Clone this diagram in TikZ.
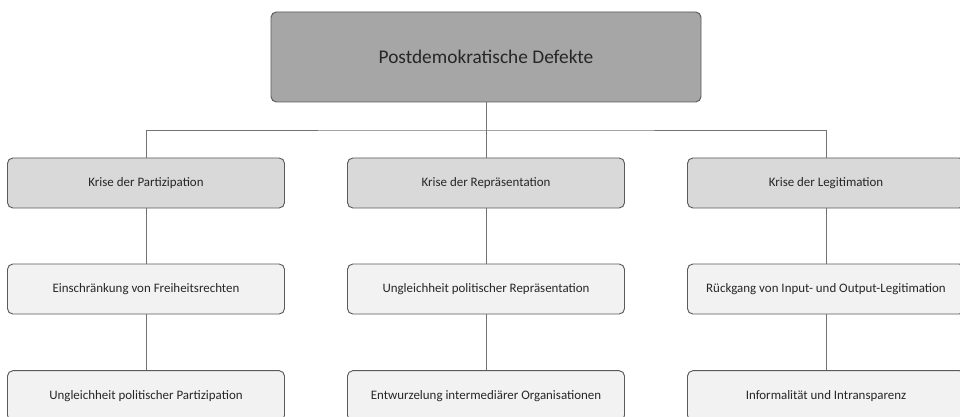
\documentclass[tikz,border=0pt]{standalone}
\usepackage{fontspec}
\setmainfont{Carlito}
\usetikzlibrary{positioning}

\definecolor{topgray}{HTML}{A6A6A6}
\definecolor{midgray}{HTML}{D9D9D9}
\definecolor{lowgray}{HTML}{F2F2F2}
\definecolor{edgegray}{HTML}{5A5A5A}
\definecolor{textgray}{HTML}{262626}

\begin{document}
\begin{tikzpicture}[x=0.75pt,y=-0.75pt,
    box/.style={draw=edgegray,line width=0.7pt,rounded corners=4pt,
      text=textgray,inner sep=0pt,align=center},
    headbox/.style={box,fill=topgray,minimum width=322.5pt,minimum height=67.5pt,
      font=\fontsize{14.5}{16}\selectfont},
    crisisbox/.style={box,fill=midgray,minimum width=207.75pt,minimum height=37.5pt,
      font=\fontsize{9.7}{11}\selectfont},
    itembox/.style={box,fill=lowgray,minimum width=207.75pt,minimum height=37.5pt,
      font=\fontsize{9.7}{11}\selectfont},
    link/.style={draw=edgegray!85,line width=0.7pt}]
  \useasboundingbox (0,0) rectangle (960,417);

  % top
  \node[headbox] (defekte) at (486,57) {Postdemokratische Defekte};
  \coordinate (bus) at (486,130);

  % second row
  \node[crisisbox] (partizipation)  at (146,183) {Krise der Partizipation};
  \node[crisisbox] (repraesentation) at (486,183) {Krise der Repräsentation};
  \node[crisisbox] (legitimation)   at (826,183) {Krise der Legitimation};

  % third row
  \node[itembox] (freiheit) at (146,289) {Einschränkung von Freiheitsrechten};
  \node[itembox] (ungleichrep) at (486,289) {Ungleichheit politischer Repräsentation};
  \node[itembox] (inout) at (826,289) {Rückgang von Input- und Output-Legitimation};

  % fourth row
  \node[itembox] (ungleichpart) at (146,395.7) {Ungleichheit politischer Partizipation};
  \node[itembox] (entwurzelung) at (486,395.7) {Entwurzelung intermediärer Organisationen};
  \node[itembox] (informal) at (826,395.7) {Informalität und Intransparenz};

  % connectors
  \draw[link] (defekte.south) -- (repraesentation.north);
  \draw[link] (partizipation.north) |- (bus) -| (legitimation.north);
  \draw[link] (partizipation.south) -- (freiheit.north);
  \draw[link] (freiheit.south) -- (ungleichpart.north);
  \draw[link] (repraesentation.south) -- (ungleichrep.north);
  \draw[link] (ungleichrep.south) -- (entwurzelung.north);
  \draw[link] (legitimation.south) -- (inout.north);
  \draw[link] (inout.south) -- (informal.north);
\end{tikzpicture}
\end{document}
